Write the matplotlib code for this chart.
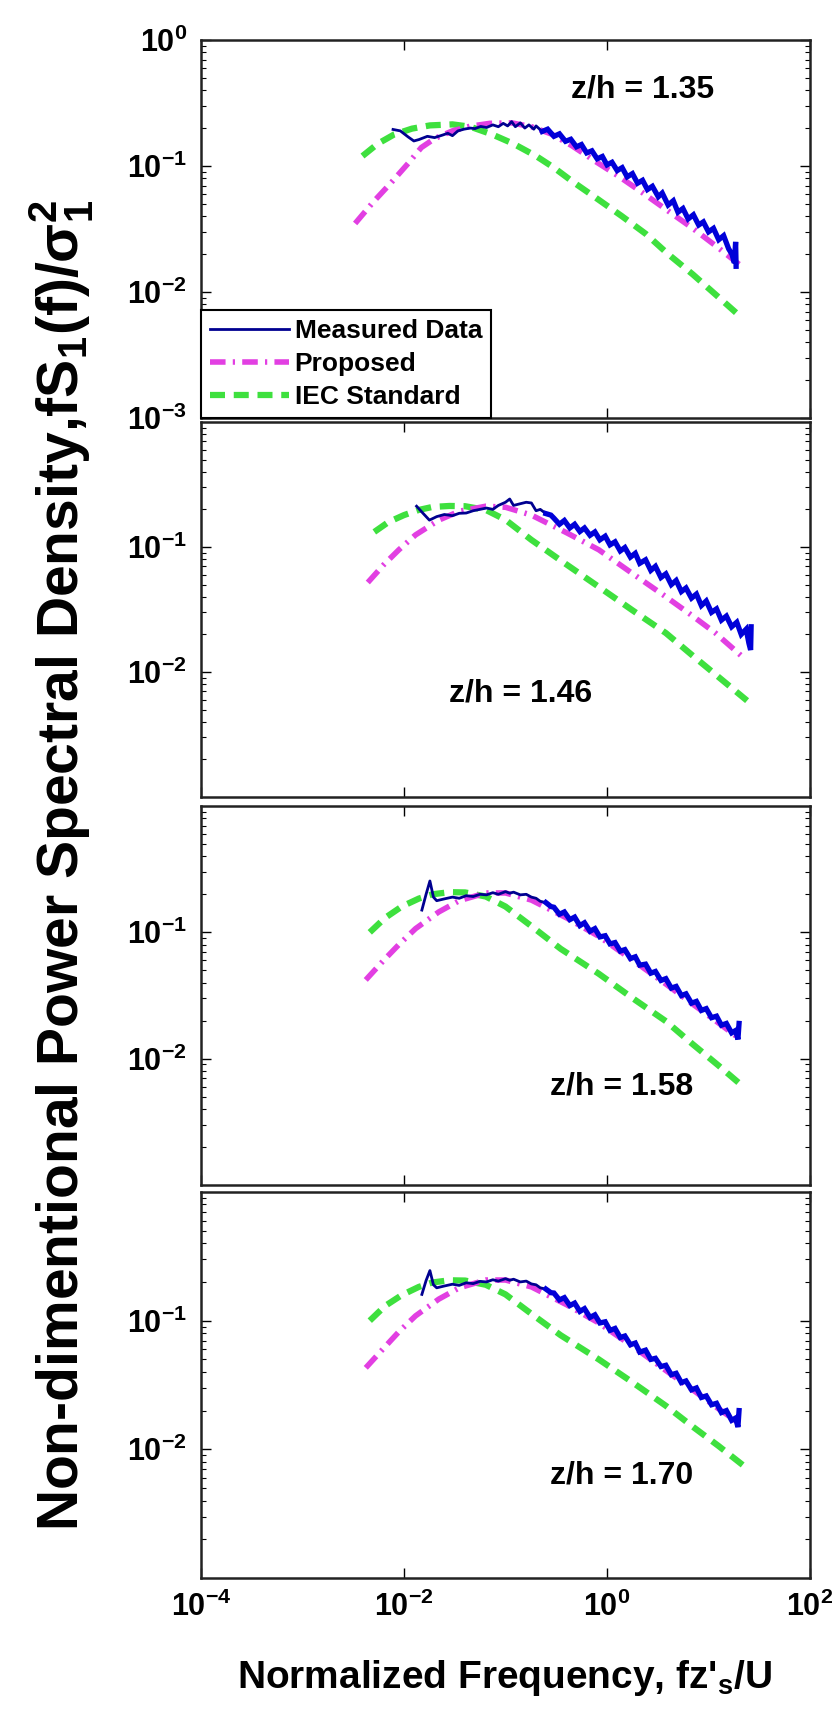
import matplotlib
matplotlib.use("Agg")
import matplotlib.pyplot as plt
from matplotlib.ticker import FixedLocator, FixedFormatter, NullFormatter, LogLocator, NullLocator

plt.rcParams['font.family'] = ['Liberation Sans', 'DejaVu Sans']
plt.rcParams['font.weight'] = 'bold'
plt.rcParams['mathtext.fontset'] = 'custom'
plt.rcParams['mathtext.rm'] = 'Liberation Sans:bold'
plt.rcParams['mathtext.bf'] = 'Liberation Sans:bold'
plt.rcParams['mathtext.it'] = 'Liberation Sans:bold'
plt.rcParams['mathtext.default'] = 'bf'

# ---------------- data ----------------
panel_labels = ["z/h = 1.35", "z/h = 1.46", "z/h = 1.58", "z/h = 1.70"]
legend_labels = ["Measured Data", "Proposed", "IEC Standard"]

# panel 1 (z/h = 1.35)
x_iec_1 = [0.0039, 0.0055, 0.008, 0.012, 0.018, 0.03, 0.045, 0.074, 0.12, 0.2, 0.3, 0.46, 0.8, 1.4, 2.4, 4, 7, 12, 21]
y_iec_1 = [0.12, 0.15, 0.178, 0.198, 0.21, 0.214, 0.205, 0.178, 0.15, 0.12, 0.097, 0.075, 0.055, 0.04, 0.029, 0.02, 0.0138, 0.0094, 0.0063]
x_prop_1 = [0.0033, 0.005, 0.0075, 0.011, 0.0148, 0.02, 0.03, 0.045, 0.07, 0.115, 0.18, 0.28, 0.45, 0.78, 1.3, 2.2, 4, 7, 12, 20]
y_prop_1 = [0.035, 0.052, 0.074, 0.105, 0.14, 0.165, 0.19, 0.207, 0.218, 0.22, 0.205, 0.18, 0.145, 0.108, 0.083, 0.062, 0.044, 0.032, 0.023, 0.0166]
x_meas_1 = [0.0078, 0.0092, 0.011, 0.0125, 0.014, 0.017, 0.02, 0.024, 0.027, 0.03, 0.034, 0.039, 0.045, 0.05, 0.057,
            0.065, 0.075, 0.085, 0.095, 0.105, 0.115, 0.125, 0.14, 0.155, 0.17, 0.19,
            0.2, 0.23, 0.26, 0.3, 0.34, 0.39, 0.44, 0.5, 0.56, 0.63, 0.71, 0.8, 0.9, 1.0, 1.12, 1.26, 1.41,
            1.58, 1.78, 2.0, 2.24, 2.5, 2.8, 3.2, 3.5, 4.0, 4.5, 5.0, 5.6, 6.3, 7.1, 8.0, 8.9, 10, 11.2,
            12.6, 14.1, 15.8, 17, 18, 18.5, 18.7]
y_meas_1 = [0.195, 0.19, 0.17, 0.158, 0.162, 0.172, 0.168, 0.176, 0.182, 0.174, 0.19, 0.196, 0.2, 0.198, 0.206,
            0.202, 0.212, 0.205, 0.218, 0.208, 0.225, 0.205, 0.22, 0.2, 0.212, 0.196,
            0.208, 0.188, 0.196, 0.172, 0.18, 0.157, 0.163, 0.142, 0.148, 0.127, 0.132, 0.114, 0.119, 0.102, 0.107, 0.092, 0.097,
            0.082, 0.087, 0.073, 0.077, 0.065, 0.069, 0.057, 0.061, 0.049, 0.053, 0.043, 0.046, 0.038, 0.041, 0.034, 0.036, 0.03, 0.032,
            0.026, 0.028, 0.022, 0.02, 0.017, 0.025, 0.016]

# panel 2 (z/h = 1.46)
x_iec_2 = [5.1e-3, 7e-3, 0.01, 0.014, 0.019, 0.028, 0.04, 0.064, 0.1, 0.18, 0.35, 0.83, 1.8, 3.8, 7, 12.6, 24]
y_iec_2 = [0.132, 0.158, 0.18, 0.198, 0.209, 0.213, 0.212, 0.198, 0.165, 0.114, 0.078, 0.048, 0.031, 0.0205, 0.0135, 0.0091, 0.0059]
x_prop_2 = [4.4e-3, 6.3e-3, 8.9e-3, 0.013, 0.022, 0.035, 0.064, 0.1, 0.18, 0.4, 0.83, 1.8, 3.8, 7, 11.7, 21]
y_prop_2 = [0.052, 0.072, 0.095, 0.125, 0.164, 0.193, 0.212, 0.208, 0.18, 0.13, 0.095, 0.061, 0.04, 0.028, 0.0205, 0.0135]
x_meas_2 = [0.0133, 0.0155, 0.0178, 0.021, 0.025, 0.03, 0.035, 0.041, 0.048, 0.056, 0.065, 0.075, 0.085, 0.1, 0.11,
            0.12, 0.14, 0.16, 0.18, 0.2, 0.22, 0.25, 0.28,
            0.3, 0.34, 0.38, 0.43, 0.48, 0.54, 0.6, 0.68, 0.76, 0.85, 0.96, 1.07, 1.2, 1.35, 1.5, 1.7, 1.9,
            2.1, 2.4, 2.7, 3.0, 3.4, 3.8, 4.3, 4.8, 5.4, 6.0, 6.8, 7.6, 8.5, 9.5, 10.7, 12, 13.4, 15, 16.9,
            19, 21, 23.5, 25, 26, 26.3]
y_meas_2 = [0.212, 0.185, 0.164, 0.175, 0.182, 0.178, 0.186, 0.187, 0.195, 0.2, 0.205, 0.2, 0.215, 0.228, 0.242,
            0.215, 0.222, 0.228, 0.225, 0.195, 0.2, 0.185, 0.18,
            0.17, 0.152, 0.163, 0.142, 0.152, 0.133, 0.142, 0.124, 0.132, 0.114, 0.122, 0.104, 0.11, 0.093, 0.099, 0.083, 0.089,
            0.074, 0.079, 0.065, 0.07, 0.057, 0.061, 0.05, 0.054, 0.044, 0.047, 0.039, 0.042, 0.034, 0.037, 0.03, 0.032, 0.026, 0.028, 0.023,
            0.025, 0.02, 0.022, 0.017, 0.015, 0.023]

# panel 3 (z/h = 1.58)
x_iec_3 = [4.6e-3, 6.5e-3, 0.0095, 0.014, 0.019, 0.028, 0.04, 0.064, 0.1, 0.18, 0.35, 0.83, 1.8, 3.8, 7, 12.6, 22]
y_iec_3 = [0.1, 0.13, 0.16, 0.185, 0.2, 0.208, 0.207, 0.192, 0.16, 0.112, 0.074, 0.047, 0.03, 0.0198, 0.013, 0.0088, 0.006]
x_prop_3 = [4.2e-3, 6.3e-3, 8.9e-3, 0.013, 0.022, 0.035, 0.064, 0.1, 0.18, 0.4, 0.83, 1.8, 3.8, 7, 11.7, 20]
y_prop_3 = [0.042, 0.06, 0.08, 0.107, 0.145, 0.178, 0.205, 0.205, 0.18, 0.13, 0.093, 0.06, 0.039, 0.027, 0.02, 0.0145]
x_meas_3 = [0.015, 0.0165, 0.018, 0.0195, 0.021, 0.025, 0.03, 0.035, 0.041, 0.048, 0.056, 0.065, 0.075,
            0.085, 0.1, 0.11, 0.12, 0.14, 0.16, 0.18, 0.2, 0.22, 0.25, 0.28,
            0.3, 0.34, 0.38, 0.43, 0.48, 0.54, 0.6, 0.68, 0.76, 0.85, 0.96, 1.07, 1.2, 1.35, 1.5, 1.7, 1.9,
            2.1, 2.4, 2.7, 3.0, 3.4, 3.8, 4.3, 4.8, 5.4, 6.0, 6.8, 7.6, 8.5, 9.5, 10.7, 12, 13.4, 15, 16.9,
            18.5, 19.5, 20]
y_meas_3 = [0.15, 0.2, 0.255, 0.19, 0.178, 0.184, 0.19, 0.186, 0.195, 0.192, 0.2, 0.198, 0.206,
            0.2, 0.21, 0.204, 0.208, 0.198, 0.2, 0.19, 0.186, 0.176, 0.172, 0.16,
            0.158, 0.139, 0.145, 0.126, 0.132, 0.113, 0.119, 0.102, 0.107, 0.092, 0.094, 0.081, 0.083, 0.071, 0.073, 0.062, 0.064,
            0.055, 0.056, 0.0475, 0.049, 0.0416, 0.043, 0.0362, 0.0373, 0.0316, 0.0326, 0.0275, 0.0284, 0.0241, 0.0249, 0.0211, 0.0217,
            0.0184, 0.019, 0.016, 0.0167, 0.0142, 0.019]

# panel 4 (z/h = 1.70)
x_iec_4 = [4.6e-3, 6.5e-3, 0.0095, 0.014, 0.019, 0.028, 0.04, 0.064, 0.1, 0.18, 0.35, 0.83, 1.8, 3.8, 7, 12.6, 22]
y_iec_4 = [0.1, 0.13, 0.158, 0.183, 0.198, 0.206, 0.205, 0.19, 0.16, 0.113, 0.077, 0.05, 0.033, 0.0218, 0.015, 0.0106, 0.0075]
x_prop_4 = [4.2e-3, 6.3e-3, 8.9e-3, 0.013, 0.022, 0.035, 0.064, 0.1, 0.18, 0.4, 0.83, 1.8, 3.8, 7, 11.7, 20]
y_prop_4 = [0.043, 0.061, 0.082, 0.109, 0.147, 0.18, 0.207, 0.207, 0.183, 0.133, 0.096, 0.063, 0.041, 0.029, 0.0215, 0.016]
x_meas_4 = [0.015, 0.0165, 0.018, 0.0195, 0.021, 0.025, 0.03, 0.035, 0.041, 0.048, 0.056, 0.065, 0.075,
            0.085, 0.1, 0.11, 0.12, 0.14, 0.16, 0.18, 0.2, 0.22, 0.25, 0.28,
            0.3, 0.34, 0.38, 0.43, 0.48, 0.54, 0.6, 0.68, 0.76, 0.85, 0.96, 1.07, 1.2, 1.35, 1.5, 1.7, 1.9,
            2.1, 2.4, 2.7, 3.0, 3.4, 3.8, 4.3, 4.8, 5.4, 6.0, 6.8, 7.6, 8.5, 9.5, 10.7, 12, 13.4, 15, 16.9,
            18.5, 19.5, 20]
y_meas_4 = [0.16, 0.205, 0.245, 0.19, 0.18, 0.186, 0.192, 0.188, 0.197, 0.194, 0.202, 0.2, 0.208,
            0.203, 0.212, 0.206, 0.21, 0.2, 0.203, 0.193, 0.19, 0.18, 0.176, 0.165,
            0.164, 0.145, 0.151, 0.131, 0.137, 0.118, 0.124, 0.106, 0.111, 0.096, 0.098, 0.084, 0.087, 0.074, 0.076, 0.065, 0.067,
            0.057, 0.059, 0.05, 0.051, 0.044, 0.045, 0.038, 0.039, 0.033, 0.034, 0.029, 0.03, 0.0253, 0.026, 0.0222, 0.0228,
            0.0193, 0.02, 0.0168, 0.0175, 0.0149, 0.02]

x_ticks = [1e-4, 1e-2, 1e0, 1e2]
x_ticklabels = [r'$\mathdefault{10^{-4}}$', r'$\mathdefault{10^{-2}}$', r'$\mathdefault{10^{0}}$', r'$\mathdefault{10^{2}}$']
y_ticks_top = [1e0, 1e-1, 1e-2, 1e-3]
y_ticklabels_top = [r'$\mathdefault{10^{0}}$', r'$\mathdefault{10^{-1}}$', r'$\mathdefault{10^{-2}}$', r'$\mathdefault{10^{-3}}$']
y_ticks_low = [1e-1, 1e-2]
y_ticklabels_low = [r'$\mathdefault{10^{-1}}$', r'$\mathdefault{10^{-2}}$']

panels = [
    (x_meas_1, y_meas_1, x_prop_1, y_prop_1, x_iec_1, y_iec_1),
    (x_meas_2, y_meas_2, x_prop_2, y_prop_2, x_iec_2, y_iec_2),
    (x_meas_3, y_meas_3, x_prop_3, y_prop_3, x_iec_3, y_iec_3),
    (x_meas_4, y_meas_4, x_prop_4, y_prop_4, x_iec_4, y_iec_4),
]

# ---------------- layout / style ----------------
W, H = 839, 1720
fig = plt.figure(figsize=(W / 100, H / 100), dpi=100)
fig.patch.set_facecolor('white')

left_px, right_px = 201, 810
boxes_px = [(40, 418), (422, 797), (806, 1185), (1192, 1578)]
text_pos = [(0.725, 0.87), (0.525, 0.277), (0.69, 0.26), (0.69, 0.265)]
band_start = 0.25   # above this frequency the measured trace is drawn as the dense noisy band

C_MEAS_THIN = '#000090'
C_MEAS = '#0000d8'
C_PROP = '#e23fe2'
C_IEC = '#3ee03e'

for i, (top, bot) in enumerate(boxes_px):
    ax = fig.add_axes([left_px / W, 1 - bot / H, (right_px - left_px) / W, (bot - top) / H])
    xm, ym, xp, yp, xi, yi = panels[i]
    l3, = ax.plot(xi, yi, color=C_IEC, lw=4.5, dashes=(2.4, 1.4), zorder=1)
    l2, = ax.plot(xp, yp, color=C_PROP, lw=4.0, dashes=(2.8, 1.3, 0.4, 1.3), zorder=2)
    lo = [(a, b) for a, b in zip(xm, ym) if a <= band_start]
    hi = [(a, b) for a, b in zip(xm, ym) if a >= lo[-1][0]]
    l1, = ax.plot([p[0] for p in lo], [p[1] for p in lo], color=C_MEAS_THIN, lw=2.0, zorder=3)
    ax.plot([p[0] for p in hi], [p[1] for p in hi], color=C_MEAS, lw=3.8,
            solid_joinstyle='miter', zorder=3)
    ax.set_xscale('log')
    ax.set_yscale('log')
    ax.set_xlim(1e-4, 1e2)
    ax.set_ylim(1e-3, 1e0)
    ax.xaxis.set_major_locator(FixedLocator(x_ticks))
    ax.xaxis.set_minor_locator(NullLocator())
    if i == 3:
        ax.xaxis.set_major_formatter(FixedFormatter(x_ticklabels))
    else:
        ax.xaxis.set_major_formatter(NullFormatter())
    if i == 0:
        ax.yaxis.set_major_locator(FixedLocator(y_ticks_top))
        ax.yaxis.set_major_formatter(FixedFormatter(y_ticklabels_top))
    else:
        ax.yaxis.set_major_locator(FixedLocator(y_ticks_low))
        ax.yaxis.set_major_formatter(FixedFormatter(y_ticklabels_low))
    ax.yaxis.set_minor_locator(LogLocator(base=10, subs=range(2, 10)))
    ax.yaxis.set_minor_formatter(NullFormatter())
    ax.tick_params(which='both', direction='in', top=True, right=True)
    ax.tick_params(which='major', length=7, width=1.0, labelsize=22, pad=10)
    ax.tick_params(which='minor', length=3.5, width=0.8)
    for s in ax.spines.values():
        s.set_linewidth(1.8)
        s.set_color('#222222')
    ax.text(text_pos[i][0], text_pos[i][1], panel_labels[i], transform=ax.transAxes,
            ha='center', va='center', fontsize=23, fontweight='bold')
    if i == 0:
        leg = ax.legend([l1, l2, l3], legend_labels, loc='lower left', bbox_to_anchor=(0.0, 0.0),
                        prop={'weight': 'bold', 'size': 19},
                        frameon=True, fancybox=False, framealpha=1, edgecolor='black',
                        borderaxespad=0.0, handlelength=3.0, handletextpad=0.2, labelspacing=0.33,
                        borderpad=0.35)
        leg.get_frame().set_linewidth(1.5)

fig.text(62 / W, 1 - 865 / H,
         r'Non-dimentional Power Spectral Density,fS$_{1}$(f)/$\sigma_{1}^{2}$',
         rotation=90, ha='center', va='center', fontsize=41, fontweight='bold')
fig.text(505 / W, 1 - 1678 / H, r"Normalized Frequency, fz'$_{s}$/U",
         ha='center', va='center', fontsize=28, fontweight='bold')

fig.savefig('out.png', dpi=100, facecolor='white')
